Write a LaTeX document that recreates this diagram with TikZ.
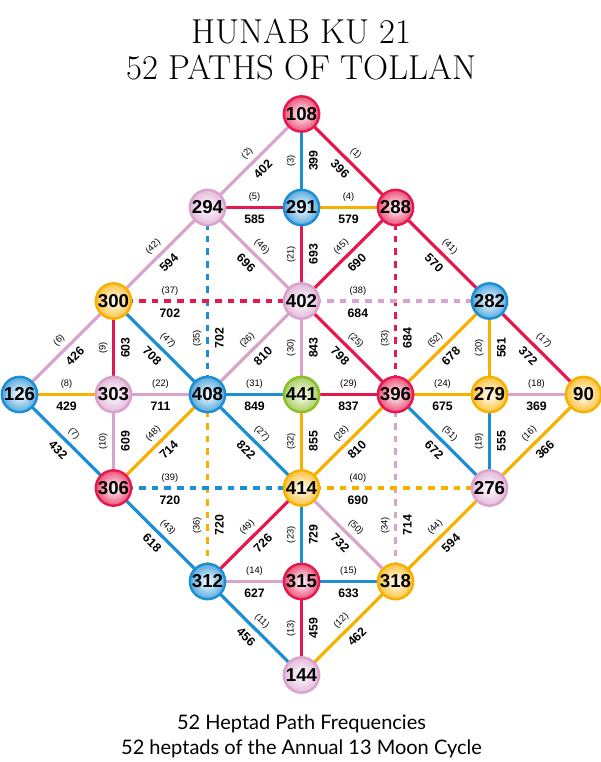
\documentclass[tikz,border=0pt]{standalone}
\usepackage{fontspec}
\newfontfamily\numfont{Liberation Sans}
\newfontfamily\capfont{Lato}
\definecolor{redc}{RGB}{230,24,78}
\definecolor{bluec}{RGB}{28,142,212}
\definecolor{yelc}{RGB}{248,176,0}
\definecolor{pinkc}{RGB}{217,163,206}
\definecolor{grnc}{RGB}{140,190,40}
\tikzset{
  orb/.style={circle,draw=#1,line width=1.8pt,inner color=white,outer color=#1!75!white,
    minimum size=26.5pt,inner sep=0pt,font=\numfont\bfseries\fontsize{14}{15}\selectfont},
  link/.style={draw=#1,line width=2.4pt},
  gap/.style={link=#1,dash pattern=on 5pt off 4.5pt},
  tag/.style={sloped,allow upside down,midway,above=2.3pt,inner sep=1pt,
    font=\numfont\fontsize{7}{8}\selectfont},
  freq/.style={sloped,allow upside down,midway,below=3.5pt,inner sep=1pt,
    font=\numfont\bfseries\fontsize{9.2}{10}\selectfont},
  headline/.style={anchor=base,font=\fontsize{26}{30}\selectfont},
  caption/.style={anchor=base,font=\capfont\fontsize{15}{18}\selectfont}
}
\begin{document}
\begin{tikzpicture}[x=0.75pt,y=-0.75pt]
\useasboundingbox (0,0) rectangle (600,762);
\node[headline] (title1) at (301.5,44) {HUNAB KU 21};
\node[headline] (title2) at (301.5,80) {52 PATHS OF TOLLAN};
\foreach \v/\i/\j/\c in {108/0/0/redc,294/-1/1/pinkc,291/0/1/bluec,288/1/1/redc,300/-2/2/yelc,402/0/2/pinkc,282/2/2/bluec,
  126/-3/3/bluec,303/-2/3/pinkc,408/-1/3/bluec,441/0/3/grnc,396/1/3/redc,279/2/3/yelc,90/3/3/yelc,
  306/-2/4/redc,414/0/4/yelc,276/2/4/pinkc,312/-1/5/bluec,315/0/5/redc,318/1/5/yelc,144/0/6/pinkc}
  {\coordinate (n\v) at ({301.5+94*\i},{114+93.5*\j});}
\foreach \a/\b/\c/\n/\f in {108/288/redc/1/396,294/108/pinkc/2/402,291/108/bluec/3/399,291/288/yelc/4/579,294/291/redc/5/585,
  126/300/pinkc/6/426,126/306/bluec/7/432,126/303/yelc/8/429,303/300/redc/9/603,306/303/pinkc/10/609,
  312/144/bluec/11/456,144/318/yelc/12/462,144/315/redc/13/459,312/315/pinkc/14/627,315/318/bluec/15/633,
  276/90/yelc/16/366,282/90/redc/17/372,279/90/pinkc/18/369,276/279/bluec/19/555,279/282/yelc/20/561,
  402/291/redc/21/693,303/408/pinkc/22/711,315/414/bluec/23/729,396/279/yelc/24/675,402/396/redc/25/798,
  408/402/pinkc/26/810,408/414/bluec/27/822,414/396/yelc/28/810,441/396/redc/29/837,441/402/pinkc/30/843,
  408/441/bluec/31/849,414/441/yelc/32/855,288/282/redc/41/570,300/294/pinkc/42/594,306/312/bluec/43/618,
  318/276/yelc/44/594,402/288/redc/45/690,294/402/pinkc/46/696,300/408/bluec/47/708,306/408/yelc/48/714,
  312/414/redc/49/726,414/318/pinkc/50/732,396/276/bluec/51/672,396/282/yelc/52/678}
  {\draw[link=\c] (n\a) -- (n\b) node[tag]{(\n)} node[freq]{\f};}
\foreach \a/\b/\c/\n/\f in {396/288/redc/33/684,318/396/pinkc/34/714,408/294/bluec/35/702,312/408/yelc/36/720,
  300/402/redc/37/702,402/282/pinkc/38/684,306/414/bluec/39/720,414/276/yelc/40/690}
  {\draw[gap=\c] (n\a) -- (n\b) node[tag,pos=0.3]{(\n)} node[freq,pos=0.3]{\f};}
\foreach \v/\c in {108/redc,294/pinkc,291/bluec,288/redc,300/yelc,402/pinkc,282/bluec,126/bluec,303/pinkc,408/bluec,
  441/grnc,396/redc,279/yelc,90/yelc,306/redc,414/yelc,276/pinkc,312/bluec,315/redc,318/yelc,144/pinkc}
  {\node[orb=\c] (b\v) at (n\v) {\v};}
\node[caption] (foot1) at (301.5,729) {52 Heptad Path Frequencies};
\node[caption] (foot2) at (301.5,754) {52 heptads of the Annual 13 Moon Cycle};
\end{tikzpicture}
\end{document}
